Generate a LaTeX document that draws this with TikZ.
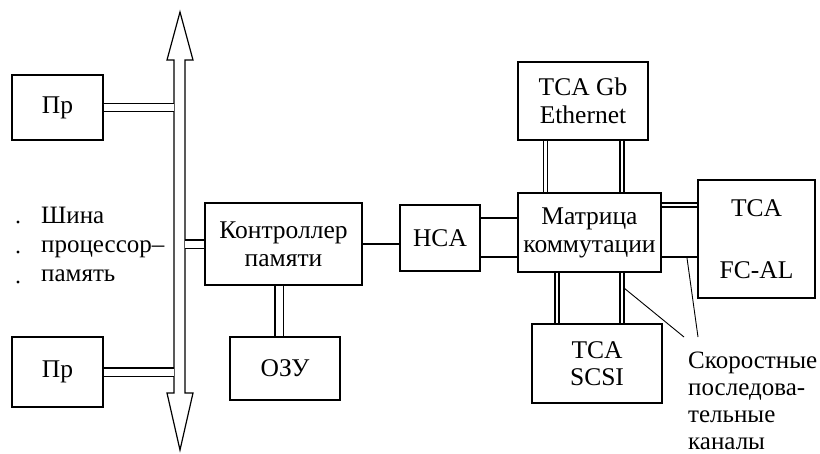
\documentclass[tikz,border=0pt]{standalone}
\usepackage{fontspec}
\setmainfont{Liberation Serif}
\begin{document}
\begin{tikzpicture}[x=1pt,y=-1pt,
  box/.style={draw,line width=1.2pt,rectangle,inner sep=0pt,align=center,font=\fontsize{25.5}{28}\selectfont},
  txt/.style={font=\fontsize{25}{27}\selectfont,inner sep=0pt},
  dbl/.style={draw,line width=1.1pt,double=white,double distance=7pt},
  dblt/.style={draw,line width=1.6pt,double=white,double distance=2.2pt},
  wire/.style={draw,line width=1.3pt},
  thick wire/.style={draw,line width=2.4pt},
  lead/.style={draw,line width=0.9pt}]
\useasboundingbox (0,0) rectangle (820,453);
% bus
\draw[line width=1.2pt,line join=miter] (180,12) -- (193,60) -- (185,60) -- (185,393) -- (193,393)
  -- (180,450) -- (167,393) -- (174,393) -- (174,60) -- (167,60) -- cycle;
\coordinate (busL) at (174,0);
\coordinate (busR) at (185,0);
% boxes
\node[box,minimum width=91pt,minimum height=65pt] (pr1) at (57.5,107.5) {Пр};
\node[box,minimum width=91pt,minimum height=70pt] (pr2) at (57.5,372) {Пр};
\node[box,minimum width=157pt,minimum height=82pt] (ctrl) at (283.5,244) {Контроллер\\памяти};
\node[box,minimum width=110pt,minimum height=63pt] (ram) at (285,368.5) {ОЗУ};
\node[box,minimum width=80pt,minimum height=66pt] (hca) at (440,238) {HCA};
\node[box,minimum width=143pt,minimum height=79pt] (mtx) at (589.5,232.5) {Матрица\\коммутации};
\node[box,minimum width=130pt,minimum height=78pt] (eth) at (583,101) {TCA Gb\\Ethernet};
\node[box,minimum width=117pt,minimum height=118pt,font=\fontsize{25.5}{62}\selectfont] (fc) at (756.5,239) {TCA\\FC-AL};
\node[box,minimum width=130pt,minimum height=79pt,font=\fontsize{25.5}{27}\selectfont] (scsi) at (597,363.5) {TCA\\SCSI};
% left label
\node[txt,anchor=base west] (l1) at (41,223) {Шина};
\node[txt,anchor=base west] (l2) at (41,252) {процессор–};
\node[txt,anchor=base west] (l3) at (41,281) {память};
\fill (18,222) circle (1.6pt) (18,252) circle (1.6pt) (18,282) circle (1.6pt);
% right label
\node[txt,anchor=base west] (r1) at (688,368) {Скоростные};
\node[txt,anchor=base west] (r2) at (688,395) {последова-};
\node[txt,anchor=base west] (r3) at (688,422) {тельные};
\node[txt,anchor=base west] (r4) at (688,449) {каналы};
% connectors
\draw[dbl] (pr1.east) -- (pr1.east -| busL);
\draw[dbl] (pr2.east) -- (pr2.east -| busL);
\draw[dbl] (ctrl.west) -- (ctrl.west -| busR);
\draw[dbl] (279,0 |- ctrl.south) -- (279,0 |- ram.north);
\draw[wire] (ctrl.east) -- (ctrl.east -| hca.west);
\draw[wire] (0,218 -| hca.east) -- (0,218 -| mtx.west);
\draw[thick wire] (0,257 -| hca.east) -- (0,257 -| mtx.west);
\draw[dblt] (545.5,0 |- eth.south) -- (545.5,0 |- mtx.north);
\draw[dblt] (622,0 |- eth.south) -- (622,0 |- mtx.north);
\draw[dblt] (0,205 -| mtx.east) -- (0,205 -| fc.west);
\draw[thick wire] (0,257 -| mtx.east) -- (0,257 -| fc.west);
\draw[dblt] (557,0 |- mtx.south) -- (557,0 |- scsi.north);
\draw[dblt] (622,0 |- mtx.south) -- (622,0 |- scsi.north);
% leaders
\coordinate (c1) at (624,288);
\coordinate (c2) at (687,258);
\draw[lead] (c1) -- (684,337);
\draw[lead] (c2) -- (698,337);
\end{tikzpicture}
\end{document}
